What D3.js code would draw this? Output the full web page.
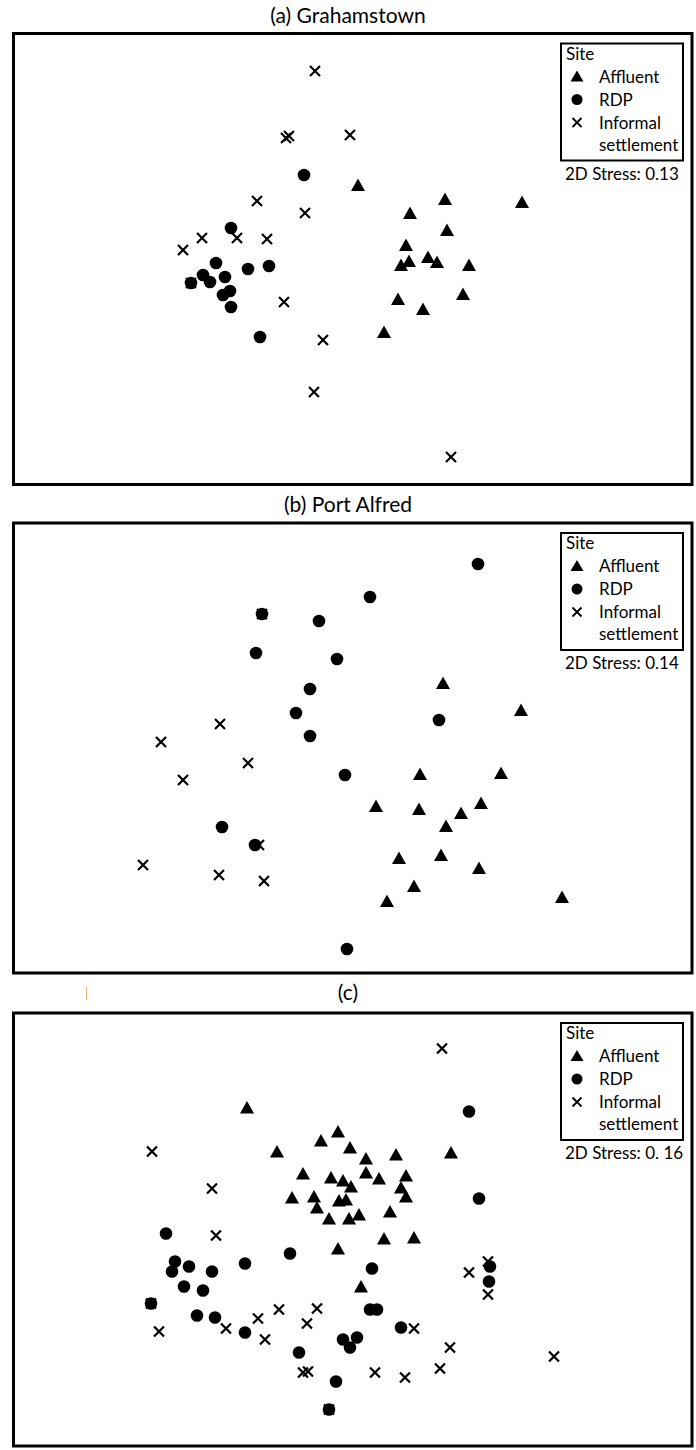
<!DOCTYPE html>
<html>
<head>
<meta charset="utf-8">
<script src="https://cdn.jsdelivr.net/npm/d3@7"></script>
<style>
  body { margin: 0; background: #fff; }
  text { font-family: Lato, "Open Sans", sans-serif; fill: #000; }
</style>
</head>
<body>
<div id="chart"></div>
<script>
// nMDS ordinations, three towns. values are MDS1 / MDS2

var panelTitles = ["(a) Grahamstown", "(b) Port Alfred", "(c)"];
var stressLabels = ["2D Stress: 0.13", "2D Stress: 0.14", "2D Stress: 0. 16"];
var siteNames = ["Affluent", "RDP", "Informal settlement"];

// (a) Grahamstown
var gtAffluent = [[0.05,0.74],[0.57,0.46],[0.92,0.60],[1.69,0.57],[0.94,0.29],[0.53,0.14],[0.56,-0.02],
  [0.75,0.02],[0.84,-0.03],[0.48,-0.06],[1.16,-0.06],[0.45,-0.40],[1.10,-0.35],[0.70,-0.50],[0.31,-0.73]];
var gtRDP = [[-0.49,0.84],[-1.22,0.31],[-1.37,-0.04],[-1.05,-0.10],[-0.84,-0.07],[-1.50,-0.16],[-1.43,-0.23],
  [-1.28,-0.18],[-1.23,-0.32],[-1.30,-0.36],[-1.22,-0.48],[-0.93,-0.78],[-1.62,-0.24]];
var gtInformal = [[-0.38,1.88],[-0.67,1.21],[-0.64,1.23],[-0.03,1.24],[-0.96,0.58],[-0.48,0.46],[-1.16,0.21],
  [-1.51,0.21],[-0.86,0.20],[-1.70,0.09],[-0.69,-0.43],[-0.30,-0.81],[-0.39,-1.33],[0.98,-1.98],[-1.62,-0.24]];

// (b) Port Alfred
var paAffluent = [[0.90,0.65],[1.68,0.38],[0.67,-0.26],[1.48,-0.25],[0.23,-0.58],[0.66,-0.61],[1.28,-0.55],
  [1.08,-0.65],[0.93,-0.78],[0.46,-1.10],[0.88,-1.07],[1.26,-1.20],[0.61,-1.38],[0.34,-1.53],[2.09,-1.49]];
var paRDP = [[-0.91,1.34],[-0.34,1.27],[-0.97,0.95],[-0.16,0.89],[-0.43,0.59],[-0.57,0.35],[-0.43,0.12],
  [1.25,1.84],[0.17,1.51],[0.86,0.28],[-0.08,-0.27],[-1.31,-0.79],[-0.98,-0.97],[-0.06,-2.01]];
var paInformal = [[-0.91,1.34],[-1.33,0.24],[-1.92,0.06],[-1.05,-0.15],[-1.70,-0.32],[-0.94,-0.97],
  [-2.10,-1.17],[-1.34,-1.27],[-0.89,-1.33]];

// (c)
var cAffluent = [[-1.06,1.22],[-0.76,0.78],[-0.32,0.89],[-0.15,0.98],[-0.03,0.82],[0.13,0.71],[0.43,0.75],
  [0.98,0.77],[-0.50,0.56],[-0.22,0.52],[-0.10,0.49],[0.13,0.57],[0.26,0.51],[0.53,0.54],[-0.02,0.43],
  [0.48,0.42],[0.53,0.33],[-0.61,0.32],[-0.39,0.33],[-0.14,0.29],[-0.07,0.30],[-0.36,0.22],[-0.24,0.11],
  [-0.04,0.11],[0.06,0.15],[0.37,0.18],[0.31,-0.09],[0.61,-0.08],[-0.15,-0.19],[0.08,-0.57]];
var cRDP = [[1.16,1.18],[1.26,0.31],[-0.63,-0.24],[0.19,-0.39],[0.17,-0.80],[0.24,-0.80],[0.48,-0.98],
  [0.04,-1.08],[-0.03,-1.18],[1.37,-0.37],[1.36,-0.52],[-1.87,-0.04],[-1.78,-0.32],[-1.81,-0.42],
  [-1.64,-0.37],[-1.41,-0.42],[-1.08,-0.34],[-1.69,-0.57],[-1.50,-0.61],[-2.02,-0.74],[-1.56,-0.86],
  [-1.38,-0.88],[-1.08,-1.03],[-0.54,-1.23],[-0.10,-1.10],[-0.17,-1.52],[-0.24,-1.80]];
var cInformal = [[0.89,1.81],[-2.01,0.78],[-1.41,0.41],[-1.37,-0.06],[0.61,-0.99],[0.97,-1.18],[0.22,-1.43],
  [0.52,-1.48],[0.87,-1.39],[2.01,-1.27],[1.16,-0.43],[1.35,-0.32],[1.35,-0.65],[-2.02,-0.74],[-1.27,-0.99],
  [-1.94,-1.02],[-0.95,-0.89],[-0.74,-0.80],[-0.88,-1.10],[-0.46,-0.94],[-0.36,-0.79],[-0.50,-1.43],
  [-0.45,-1.42],[-0.24,-1.80]];

var affluentSets = [gtAffluent, paAffluent, cAffluent];
var rdpSets = [gtRDP, paRDP, cRDP];
var informalSets = [gtInformal, paInformal, cInformal];

var svgWidth = 696;
var svgHeight = 1450;

// frame of each panel (pixels)
var frameLeft = 13.5, frameRight = 692;
var frameTops = [33.5, 523, 1013];
var frameBottoms = [484.5, 973, 1446];
var titleY = [23, 512, 1000];

var svg = d3.select("#chart")
  .append("svg")
  .attr("width", svgWidth)
  .attr("height", svgHeight);

// little orange cursor mark left over in the source figure
svg.append("line")
  .attr("x1", 86.5).attr("x2", 86.5)
  .attr("y1", 987).attr("y2", 1000)
  .attr("stroke", "#f5b26b")
  .attr("stroke-width", 1);

function drawTriangles(g, data, x, y) {
  g.selectAll("path.aff")
    .data(data)
    .enter()
    .append("path")
    .attr("class", "aff")
    .attr("d", d => {
      var cx = x(d[0]), cy = y(d[1]);
      return `M${cx},${cy - 6.5}L${cx + 7},${cy + 6}L${cx - 7},${cy + 6}Z`;
    })
    .attr("fill", "#000");
}

function drawCircles(g, data, x, y) {
  g.selectAll("circle.rdp")
    .data(data)
    .enter()
    .append("circle")
    .attr("class", "rdp")
    .attr("cx", d => x(d[0]))
    .attr("cy", d => y(d[1]))
    .attr("r", 6.3)
    .attr("fill", "#000");
}

function drawCrosses(g, data, x, y) {
  g.selectAll("path.inf")
    .data(data)
    .enter()
    .append("path")
    .attr("class", "inf")
    .attr("d", d => {
      var cx = x(d[0]), cy = y(d[1]), s = 5;
      return `M${cx - s},${cy - s}L${cx + s},${cy + s}M${cx - s},${cy + s}L${cx + s},${cy - s}`;
    })
    .attr("stroke", "#000")
    .attr("stroke-width", 2.2)
    .attr("fill", "none");
}

panelTitles.forEach(function(title, i) {
  var top = frameTops[i], bottom = frameBottoms[i];
  var half = (bottom - top) / 200;

  var xScale = d3.scaleLinear()
    .domain([-3.395, 3.39])
    .range([frameLeft, frameRight]);

  var yScale = d3.scaleLinear()
    .domain([-half, half])
    .range([bottom, top]);

  var g = svg.append("g");

  g.append("text")
    .attr("x", 348)
    .attr("y", titleY[i])
    .attr("text-anchor", "middle")
    .attr("font-size", "21px")
    .text(title);

  g.append("rect")
    .attr("x", frameLeft)
    .attr("y", top)
    .attr("width", frameRight - frameLeft)
    .attr("height", bottom - top)
    .attr("fill", "none")
    .attr("stroke", "#000")
    .attr("stroke-width", 3);

  drawCrosses(g, informalSets[i], xScale, yScale);
  drawCircles(g, rdpSets[i], xScale, yScale);
  drawTriangles(g, affluentSets[i], xScale, yScale);

  // legend
  var lg = g.append("g")
    .attr("transform", `translate(561, ${top + 10})`);

  lg.append("rect")
    .attr("x", 0).attr("y", 0)
    .attr("width", 122).attr("height", 117)
    .attr("fill", "#fff")
    .attr("stroke", "#000")
    .attr("stroke-width", 2);

  lg.append("text")
    .attr("x", 5).attr("y", 16)
    .attr("font-size", "17px")
    .text("Site");

  var rowY = [33, 56, 79];
  lg.append("path")
    .attr("d", `M16,${rowY[0] - 6}L22.5,${rowY[0] + 5}L9.5,${rowY[0] + 5}Z`)
    .attr("fill", "#000");
  lg.append("circle")
    .attr("cx", 16).attr("cy", rowY[1])
    .attr("r", 5.5)
    .attr("fill", "#000");
  lg.append("path")
    .attr("d", `M11.5,${rowY[2] - 4.5}L20.5,${rowY[2] + 4.5}M11.5,${rowY[2] + 4.5}L20.5,${rowY[2] - 4.5}`)
    .attr("stroke", "#000")
    .attr("stroke-width", 1.8);

  lg.append("text").attr("x", 38).attr("y", rowY[0] + 6).attr("font-size", "17px").text(siteNames[0]);
  lg.append("text").attr("x", 38).attr("y", rowY[1] + 6).attr("font-size", "17px").text(siteNames[1]);
  lg.append("text").attr("x", 38).attr("y", rowY[2] + 6).attr("font-size", "17px").text("Informal");
  lg.append("text").attr("x", 38).attr("y", rowY[2] + 28).attr("font-size", "17px").text("settlement");

  lg.append("text")
    .attr("x", 4).attr("y", 136)
    .attr("font-size", "17px")
    .text(stressLabels[i]);
});
</script>
</body>
</html>
